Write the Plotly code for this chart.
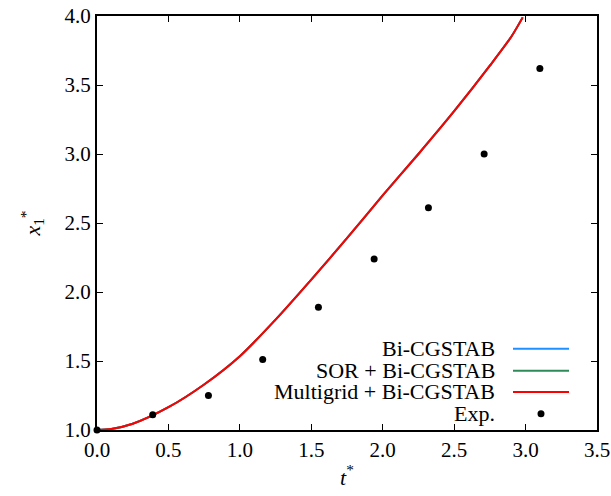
import plotly.graph_objects as go

# Simulation curve (identical for all three solvers)
t_sim = [0.0, 0.1, 0.25, 0.5, 0.75, 1.0, 1.25, 1.5, 1.75, 2.0, 2.25, 2.5, 2.75, 2.9, 2.98]
x_sim = [1.0, 1.007, 1.045, 1.165, 1.33, 1.535, 1.80, 2.09, 2.39, 2.70, 3.00, 3.31, 3.64, 3.85, 3.99]

# Experimental data
t_exp = [0.0, 0.39, 0.78, 1.16, 1.55, 1.94, 2.32, 2.71, 3.10]
x_exp = [1.0, 1.11, 1.25, 1.51, 1.89, 2.24, 2.61, 3.0, 3.62]

series_names = ["Bi-CGSTAB", "SOR + Bi-CGSTAB", "Multigrid + Bi-CGSTAB"]
series_colors = ["#1e90ff", "#2e8b57", "#ff0000"]
exp_name = "Exp."

FONT = "Liberation Serif"

fig = go.Figure()
for name, col in zip(series_names, series_colors):
    fig.add_trace(go.Scatter(x=t_sim, y=x_sim, mode="lines", name=name,
                             line=dict(color=col, width=2, shape="spline", smoothing=0.8),
                             showlegend=False))
fig.add_trace(go.Scatter(x=t_exp, y=x_exp, mode="markers", name=exp_name,
                         marker=dict(color="black", size=7), cliponaxis=False,
                         showlegend=False))

# Custom legend (text left of symbol, as in the reference)
row_y = [0.196, 0.143, 0.092, 0.039]
for i, (name, col) in enumerate(zip(series_names, series_colors)):
    fig.add_annotation(x=0.80, y=row_y[i], xref="paper", yref="paper",
                       text=name, showarrow=False, xanchor="right", yanchor="middle",
                       font=dict(family=FONT, size=22, color="black"))
    fig.add_shape(type="line", xref="paper", yref="paper",
                  x0=0.832, x1=0.944, y0=row_y[i], y1=row_y[i],
                  line=dict(color=col, width=2))
fig.add_annotation(x=0.80, y=row_y[3], xref="paper", yref="paper",
                   text=exp_name, showarrow=False, xanchor="right", yanchor="middle",
                   font=dict(family=FONT, size=22, color="black"))
fig.add_shape(type="circle", xref="paper", yref="paper",
              xsizemode="pixel", ysizemode="pixel",
              xanchor=0.888, yanchor=row_y[3],
              x0=-3.5, x1=3.5, y0=-3.5, y1=3.5,
              fillcolor="black", line=dict(color="black", width=0))

axis_common = dict(showgrid=False, zeroline=False, showline=True, linecolor="black",
                   linewidth=2, mirror="allticks", ticks="inside", ticklen=6,
                   tickwidth=1, tickcolor="black", tickformat=".1f", automargin=False,
                   tickfont=dict(family=FONT, size=21, color="black"))

fig.update_xaxes(range=[0, 3.5], dtick=0.5, tick0=0,
                 title=dict(text="<i>t</i><sup>*</sup>", standoff=8,
                            font=dict(family=FONT, size=22, color="black")),
                 **axis_common)
fig.update_yaxes(range=[1, 4], dtick=0.5, tick0=1,
                 title=dict(text="<i>x</i><sub>1</sub><sup>*</sup>", standoff=18,
                            font=dict(family=FONT, size=22, color="black")),
                 **axis_common)

fig.update_layout(width=611, height=496, margin=dict(l=97, r=14, t=16, b=66),
                  paper_bgcolor="white", plot_bgcolor="white", showlegend=False,
                  font=dict(family=FONT, color="black"))

fig.write_html("out.html")
